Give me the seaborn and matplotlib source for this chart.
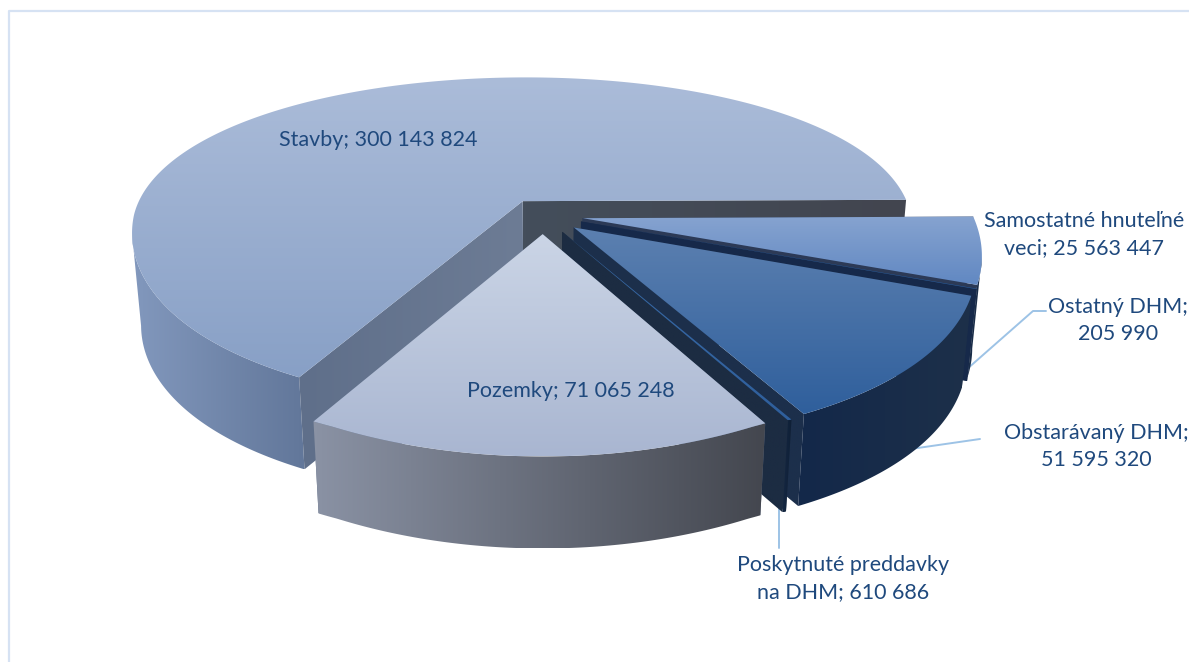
import numpy as np
import matplotlib
matplotlib.use("Agg")
import matplotlib.pyplot as plt
from matplotlib.patches import Polygon
import seaborn as sns

# data, in drawing order round the pie (anticlockwise from the east)
categories = ["Stavby", "Pozemky", "Poskytnuté preddavky na DHM", "Obstarávaný DHM",
              "Ostatný DHM", "Samostatné hnuteľné veci"]
values = [300143824, 71065248, 610686, 51595320, 205990, 25563447]

sns.set_theme(style="white")
plt.rcParams["font.family"] = ["Lato", "DejaVu Sans"]

# colours per slice: top (back, front), rim (left, right), walls (start, end)
top_cols = [("#abbcd9", "#88a0c6"), ("#cbd5e6", "#a9b6d1"), ("#3a6ca8", "#2f5f9c"),
            ("#5c80b0", "#2f5f9c"), ("#3a6ca8", "#2f5f9c"), ("#86a3d0", "#6188c2")]
rim_cols = [("#8298bd", "#62779a"), ("#8a92a4", "#44474f"), ("#142742", "#0f1f35"),
            ("#13284a", "#1d3049"), ("#1a2d48", "#1a2d48"), ("#1a2d48", "#1a2d48")]
wall_cols = [("#444e5b", "#42454f"), ("#5f6f8a", "#5f6f8a"), ("#101f33", "#1c2c42"),
             ("#1c2f4b", "#1c2f4b"), ("#16294a", "#16294a"), ("#1c3052", "#2c3a56")]
end_wall_cols = [("#5f6f8a", "#6d7c95"), ("#5f6f8a", "#5f6f8a"), ("#1c2c42", "#1c2c42"),
                 ("#1c2f4b", "#1c2f4b"), ("#16294a", "#16294a"), ("#2c3a56", "#2c3a56")]

# perspective of the pie
X0, Y0 = 543, 215
B, A = 390, 160
PERSP_X, PERSP_Y = 0.18, 0.244
DEPTH, TAPER = 92, 0.022
BULGE = 22
EXPLODE = 0.103
START_DEG = 0.5


def project(gx, gz, h=0.0):
    wx = 1 - PERSP_X * gz
    wy = 1 - PERSP_Y * gz
    # the front half of the rim sags a little lower than a plain projection
    sag = BULGE * np.maximum(gz, 0) * np.clip(1 - gz ** 2, 0, None)
    return X0 + B * gx / wx * (1 - TAPER * h), Y0 + A * gz / wy + sag + DEPTH * h


def gradient(ax, pts, c1, c2, vertical=True):
    cmap = sns.blend_palette([c1, c2], n_colors=64, as_cmap=True)
    pts = np.asarray(pts)
    x1, y1 = pts.min(axis=0)
    x2, y2 = pts.max(axis=0)
    grad = np.linspace(0, 1, 128)
    grad = grad[:, None] if vertical else grad[None, :]
    im = ax.imshow(grad, cmap=cmap, vmin=0, vmax=1, aspect="auto", origin="upper",
                   extent=(x1, x2, y2, y1), interpolation="bilinear", zorder=2)
    im.set_clip_path(Polygon(pts, closed=True, transform=ax.transData))


fig, ax = plt.subplots(figsize=(11.89, 6.62), dpi=100)
fig.subplots_adjust(0, 0, 1, 1)

shares = np.array(values) / sum(values) * 360
edges = START_DEG + np.concatenate([[0], np.cumsum(shares)])

# later slices sit in front of the earlier ones
for i in [0, 5, 4, 3, 2, 1]:
    t1, t2 = np.radians(edges[i]), np.radians(edges[i + 1])
    mid = (t1 + t2) / 2
    ox, oz = EXPLODE * np.cos(mid), -EXPLODE * np.sin(mid)
    th = np.linspace(t1, t2, max(int(shares[i] * 2), 3))
    gx, gz = ox + np.cos(th), oz - np.sin(th)

    top_arc = np.column_stack(project(gx, gz))
    low_arc = np.column_stack(project(gx, gz, 1))
    apex = np.array(project(ox, oz))
    apex_low = np.array(project(ox, oz, 1))

    # only the part of the rim in front of the left/right extreme is seen,
    # cutting there gives the straight silhouette edge
    if i == 0:
        k = np.argmin(top_arc[:, 0])
        rim = np.vstack([top_arc[k:], low_arc[k:][::-1]])
    elif i == 5:
        k = np.argmax(top_arc[:, 0])
        rim = np.vstack([top_arc[:k + 1], low_arc[:k + 1][::-1]])
    else:
        rim = np.vstack([top_arc, low_arc[::-1]])

    # the big slice shows its walls over the rim, the others hide them
    if i == 0:
        gradient(ax, rim, *rim_cols[i], vertical=False)
    gradient(ax, [apex, top_arc[0], low_arc[0], apex_low], *wall_cols[i], vertical=False)
    gradient(ax, [apex, top_arc[-1], low_arc[-1], apex_low], *end_wall_cols[i], vertical=False)
    if i != 0:
        gradient(ax, rim, *rim_cols[i], vertical=False)
    gradient(ax, np.vstack([[apex], top_arc]), *top_cols[i])

# frame of the chart area
ax.plot([1189, 9, 9], [10.5, 10.5, 662], color="#d6e2f3", lw=1.6, zorder=1)

# leader lines, behind the pie so they stop at its edge
leader = "#9dc3e6"
ax.plot([1046, 1033, 950], [311, 311, 384], color=leader, lw=1.4, zorder=1.5)
ax.plot([980, 890], [439, 452], color=leader, lw=1.4, zorder=1.5)
ax.plot([779, 779], [505, 548], color=leader, lw=1.4, zorder=1.5)


def num(v):
    return f"{v:,}".replace(",", " ")


label_text = [
    f"{categories[0]}; {num(values[0])}",
    f"{categories[1]}; {num(values[1])}",
    f"Poskytnuté preddavky\nna DHM; {num(values[2])}",
    f"{categories[3]};\n{num(values[3])}",
    f"{categories[4]};\n{num(values[4])}",
    f"Samostatné hnuteľné\nveci; {num(values[5])}",
]
label_xy = [(378, 140), (571, 391), (843, 578.5), (1096, 446.5), (1118, 320.5), (1084, 234.5)]
for s, (lx, ly) in zip(label_text, label_xy):
    ax.text(lx, ly, s, ha="center", va="center", fontsize=15.5, color="#1f497d",
            linespacing=1.42, zorder=4)

ax.set_xlim(0, 1189)
ax.set_ylim(662, 0)
ax.axis("off")
fig.savefig("out.png", dpi=100, facecolor="white")
